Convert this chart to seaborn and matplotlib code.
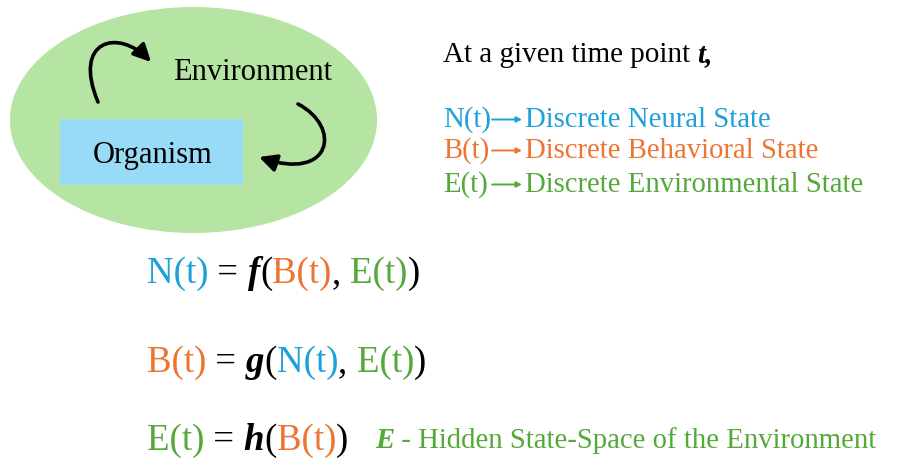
import matplotlib
matplotlib.use("Agg")
import matplotlib.pyplot as plt
import seaborn as sns
from matplotlib.patches import Ellipse, Rectangle, FancyArrowPatch
from matplotlib.path import Path

BLUE = "#1ea0d8"
ORANGE = "#ec7533"
GREEN = "#55a93a"

box_labels = ["Environment", "Organism"]
header = ["At a given time point ", "t,"]
state_symbols = ["N(t)", "B(t)", "E(t)"]
state_names = ["Discrete Neural State", "Discrete Behavioral State",
               "Discrete Environmental State"]
state_colors = [BLUE, ORANGE, GREEN]
functions = ["f", "g", "h"]
arguments = [[1, 2], [0, 2], [1]]   # indices into state_symbols
note = ["E", " - Hidden State-Space of the Environment"]

sns.set_theme(style="white")
plt.rcParams["font.family"] = ["Liberation Serif", "DejaVu Serif"]

fig = plt.figure(figsize=(8.98, 4.68), dpi=100)
ax = fig.add_axes([0, 0, 1, 1])
ax.set_xlim(0, 898)
ax.set_ylim(468, 0)
ax.set_axis_off()
renderer = fig.canvas.get_renderer()

REG = dict(fontweight="normal", fontstyle="normal")
BI = dict(fontweight="bold", fontstyle="italic")


def text_width(s, size, style):
    # measure with a marker so trailing spaces count
    bar = ax.text(0, 0, "|", fontsize=size, **style)
    probe = ax.text(0, 0, s + "|", fontsize=size, **style)
    w = probe.get_window_extent(renderer).width - bar.get_window_extent(renderer).width
    bar.remove()
    probe.remove()
    return w


def draw_runs(x, y, runs, size):
    for s, color, style in runs:
        ax.text(x, y, s, color=color, fontsize=size, ha="left", va="baseline", **style)
        x += text_width(s, size, style)
    return x


# environment / organism diagram
ax.add_patch(Ellipse((193.5, 120), 367, 226, color="#b5e4a3", lw=0))
ax.add_patch(Rectangle((60, 119), 183, 66, color="#97dbf6", lw=0))
ax.text(173, 80, box_labels[0], fontsize=22, ha="left", va="baseline", color="black")
ax.text(152.5, 163, box_labels[1], fontsize=22, ha="center", va="baseline", color="black")

curves = [
    [(98, 102), (72, 40), (118, 28), (151, 62)],
    [(298, 104), (342, 127), (332, 182), (259, 157)],
]
for pts in curves:
    p = Path(pts, [Path.MOVETO, Path.CURVE4, Path.CURVE4, Path.CURVE4])
    ax.add_patch(FancyArrowPatch(path=p, arrowstyle="-|>", mutation_scale=26,
                                 lw=2.6, color="black", shrinkA=0, shrinkB=0))

# legend block
draw_runs(443, 62, [(header[0], "black", REG), (header[1], "black", BI)], 21)
baselines = [127, 158, 192]
for sym, name, c, yb in zip(state_symbols, state_names, state_colors, baselines):
    x_end = draw_runs(443, yb, [(sym, c, REG)], 20.7)
    ax.annotate("", xy=(522, yb - 7.5), xytext=(max(x_end + 1, 492), yb - 7.5),
                arrowprops=dict(arrowstyle="-|>", color=c, lw=1.4,
                                mutation_scale=8, shrinkA=0, shrinkB=0))
    draw_runs(525, yb, [(name, c, REG)], 20.7)

# equations
eq_baselines = [283, 372, 450]
for i, (fn, args, yb) in enumerate(zip(functions, arguments, eq_baselines)):
    runs = [(state_symbols[i], state_colors[i], REG), (" = ", "black", REG),
            (fn, "black", BI), ("(", "black", REG)]
    for k, a in enumerate(args):
        if k:
            runs.append((", ", "black", REG))
        runs.append((state_symbols[a], state_colors[a], REG))
    runs.append((")", "black", REG))
    draw_runs(147, yb, runs, 26.6)

draw_runs(375, 448, [(note[0], GREEN, BI), (note[1], GREEN, REG)], 20.7)

fig.savefig("out.png", dpi=100)
